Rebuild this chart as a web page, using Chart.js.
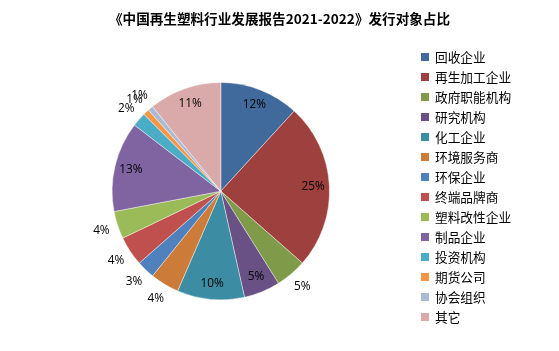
<!DOCTYPE html>
<html>
<head>
<meta charset="utf-8">
<script src="https://cdn.jsdelivr.net/npm/chart.js@4.4.1/dist/chart.umd.min.js"></script>
<style>
  html, body { margin: 0; padding: 0; background: #fff; }
  #wrap { position: relative; width: 559px; height: 351px; }
</style>
</head>
<body>
<div id="wrap"><canvas id="pie"></canvas></div>
<script>
// 发行对象
const categories = ['回收企业', '再生加工企业', '政府职能机构', '研究机构', '化工企业', '环境服务商',
  '环保企业', '终端品牌商', '塑料改性企业', '制品企业', '投资机构', '期货公司', '协会组织', '其它'];
// 占比 (%)
const shares = [11.8, 24.7, 4.6, 5.4, 10.0, 4.3, 2.7, 4.4, 4.1, 13.4, 2.1, 0.9, 0.8, 10.8];
const colors = ['#40699C', '#9E413E', '#7F9A48', '#695185', '#3C8DA3', '#CC7B38', '#4F81BD',
  '#C0504D', '#9BBB59', '#8064A2', '#4BACC6', '#F79646', '#AABAD7', '#D9AAA9'];

const titleText = '《中国再生塑料行业发展报告2021-2022》发行对象占比';
const cjkFont = '"Noto Sans CJK SC", "Noto Sans", sans-serif';

// 标题、百分比标签和图例都画在画布上
const extras = {
  id: 'extras',
  afterDatasetsDraw(chart) {
    const ctx = chart.ctx;
    const meta = chart.getDatasetMeta(0);
    const total = shares.reduce((a, b) => a + b, 0);

    ctx.save();
    ctx.fillStyle = '#000';
    ctx.textAlign = 'center';
    ctx.textBaseline = 'middle';
    ctx.font = 'bold 13.6px ' + cjkFont;
    ctx.fillText(titleText, 279.5, 19);

    // 百分比标签
    ctx.font = '11.8px "Open Sans", sans-serif';
    meta.data.forEach((arc, i) => {
      const p = shares[i] / total * 100;
      const mid = (arc.startAngle + arc.endAngle) / 2;
      const r = p >= 5 ? arc.outerRadius * 0.85 : arc.outerRadius + 17;
      ctx.fillText(Math.round(p) + '%', arc.x + Math.cos(mid) * r, arc.y + Math.sin(mid) * r);
    });

    // 图例
    ctx.textAlign = 'left';
    ctx.font = '12.7px ' + cjkFont;
    categories.forEach((name, i) => {
      const y = 57 + i * 20;
      ctx.fillStyle = colors[i];
      ctx.fillRect(421, y - 4, 8, 8);
      ctx.fillStyle = '#000';
      ctx.fillText(name, 435, y);
    });
    ctx.restore();
  }
};

new Chart(document.getElementById('pie'), {
  type: 'pie',
  data: {
    labels: categories,
    datasets: [{
      data: shares,
      backgroundColor: colors,
      borderColor: 'rgba(255,255,255,0.7)',
      borderWidth: 0.6
    }]
  },
  options: {
    responsive: true,
    maintainAspectRatio: false,
    animation: false,
    layout: { padding: { left: 111.8, right: 229.2, top: 82.2, bottom: 50.8 } },
    plugins: {
      legend: { display: false },
      title: { display: false },
      tooltip: { enabled: false }
    }
  },
  plugins: [extras]
});
</script>
</body>
</html>
